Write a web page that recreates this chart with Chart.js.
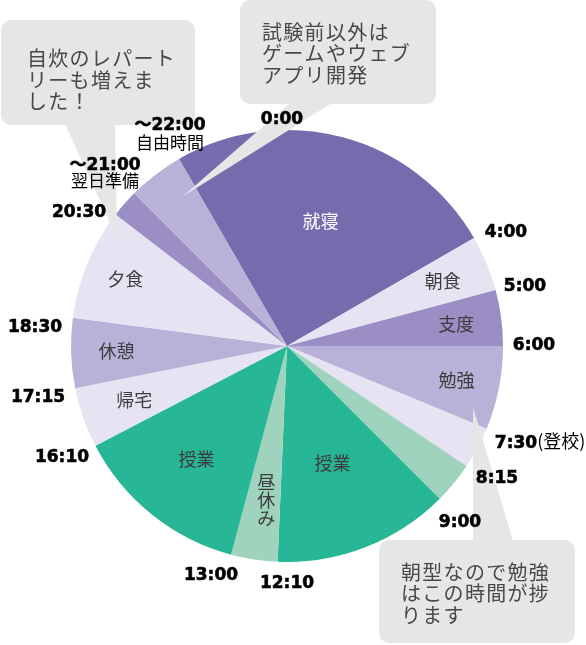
<!DOCTYPE html>
<html>
<head>
<meta charset="utf-8">
<script src="https://cdn.jsdelivr.net/npm/chart.js@4.4.1/dist/chart.umd.min.js"></script>
<style>
  html, body { margin: 0; padding: 0; background: #fff; }
  #wrap { width: 586px; height: 645px; }
</style>
</head>
<body>
<div id="wrap"><canvas id="myChart" width="586" height="645"></canvas></div>
<script>
// one day, starting at 22:00, in minutes
const activities = ['就寝', '朝食', '支度', '勉強', '登校', '朝学習', '授業', '昼休み', '授業', '帰宅', '休憩', '夕食', '翌日準備', '自由時間'];
const minutes = [360, 60, 60, 90, 45, 45, 190, 50, 190, 65, 75, 120, 30, 60];
const sliceColors = ['#786bad', '#e6e3f2', '#9a8ec4', '#b9b1d8', '#e6e3f2', '#9fd3be', '#27b696',
                     '#9fd3be', '#27b696', '#e6e3f2', '#b9b1d8', '#e6e3f2', '#9a8ec4', '#b9b1d8'];
// which slices get their name written inside, and how far out
const sliceText = ['就寝', '朝食', '支度', '勉強', '', '', '授業', '昼休み', '授業', '帰宅', '休憩', '夕食', '', ''];
const textDepth = [0.6, 0.78, 0.79, 0.8, 0, 0, 0.58, 0.72, 0.67, 0.75, 0.79, 0.81, 0, 0];

const timeLabels = ['0:00', '4:00', '5:00', '6:00', '7:30', '8:15', '9:00', '12:10', '13:00', '16:10', '17:15', '18:30', '20:30', '〜21:00', '〜22:00'];
const timeLabelPos = [[282, 124], [506, 237], [525, 291], [534, 350], [516, 448], [497, 483], [460, 527],
                      [287, 588], [211, 580], [62, 462], [38, 402], [35, 332], [79, 217], [105, 170], [170, 130]];

const notes = [
  ['自炊のレパート', 'リーも増えま', 'した！'],
  ['試験前以外は', 'ゲームやウェブ', 'アプリ開発'],
  ['朝型なので勉強', 'はこの時間が捗', 'ります']
];
const noteBoxes = [[1, 20, 194, 105], [240, 0, 196, 104], [379, 540, 196, 103]];
const noteTails = [
  [[65, 124], [115, 124], [117, 238]],
  [[290, 103], [332, 103], [182, 197]],
  [[473, 541], [513, 541], [473, 407]]
];
const noteText = [[27, 58.5], [262, 32], [401, 572]];

const CJK = '"Noto Sans CJK JP", "Noto Sans", sans-serif';

const sliceLabels = {
  id: 'sliceLabels',
  afterDatasetsDraw(chart) {
    const ctx = chart.ctx;
    const arcs = chart.getDatasetMeta(0).data;
    ctx.save();
    ctx.textAlign = 'center';
    ctx.textBaseline = 'middle';
    ctx.font = '18px ' + CJK;
    arcs.forEach((arc, i) => {
      const txt = sliceText[i];
      if (!txt) return;
      const mid = (arc.startAngle + arc.endAngle) / 2;
      const r = arc.outerRadius * textDepth[i];
      const x = arc.x + Math.cos(mid) * r;
      const y = arc.y + Math.sin(mid) * r;
      ctx.fillStyle = i === 0 ? '#ffffff' : '#3d3d3d';
      if (txt === '昼休み') {
        [...txt].forEach((c, k) => ctx.fillText(c, x + 3, y + (k - 1) * 18));
      } else {
        ctx.fillText(txt, x, y);
      }
    });
    ctx.restore();
  }
};

const annotations = {
  id: 'annotations',
  afterDraw(chart) {
    const ctx = chart.ctx;
    ctx.save();
    // speech bubbles
    ctx.fillStyle = '#e6e6e6';
    noteBoxes.forEach((b, i) => {
      ctx.beginPath();
      ctx.roundRect(b[0], b[1], b[2], b[3], 10);
      ctx.fill();
      const t = noteTails[i];
      ctx.beginPath();
      ctx.moveTo(t[0][0], t[0][1]);
      ctx.lineTo(t[1][0], t[1][1]);
      ctx.lineTo(t[2][0], t[2][1]);
      ctx.closePath();
      ctx.fill();
    });
    ctx.fillStyle = '#484848';
    ctx.font = '20px ' + CJK;
    ctx.letterSpacing = '1.3px';
    ctx.textAlign = 'left';
    ctx.textBaseline = 'middle';
    notes.forEach((lines, i) => {
      lines.forEach((ln, k) => ctx.fillText(ln, noteText[i][0], noteText[i][1] + k * 21.5));
    });
    ctx.letterSpacing = '0px';

    // clock times
    ctx.fillStyle = '#000';
    ctx.strokeStyle = '#000';
    ctx.lineWidth = 0.6;
    ctx.textBaseline = 'alphabetic';
    timeLabels.forEach((t, i) => {
      const [x, y] = timeLabelPos[i];
      ctx.font = 'bold 17px "DejaVu Sans", ' + CJK;
      ctx.textAlign = 'center';
      ctx.fillText(t, x, y);
      ctx.strokeText(t, x, y);
      if (t === '7:30') {
        const w = ctx.measureText(t).width;
        ctx.font = '18px ' + CJK;
        ctx.textAlign = 'left';
        ctx.fillText('(登校)', x + w / 2, y);
      }
    });
    ctx.font = '17px ' + CJK;
    ctx.textAlign = 'center';
    ctx.textBaseline = 'middle';
    ctx.fillText(activities[12], 105, 181);
    ctx.fillText(activities[13], 170, 142.5);
    ctx.restore();
  }
};

const chart = new Chart(document.getElementById('myChart'), {
  type: 'pie',
  data: {
    labels: activities,
    datasets: [{
      data: minutes,
      backgroundColor: sliceColors,
      borderWidth: 0,
      hoverOffset: 0
    }]
  },
  options: {
    responsive: false,
    animation: false,
    events: [],
    rotation: -30,
    layout: { padding: { left: 71, right: 83, top: 130, bottom: 83 } },
    plugins: {
      legend: { display: false },
      tooltip: { enabled: false }
    }
  },
  plugins: [sliceLabels, annotations]
});
</script>
</body>
</html>
